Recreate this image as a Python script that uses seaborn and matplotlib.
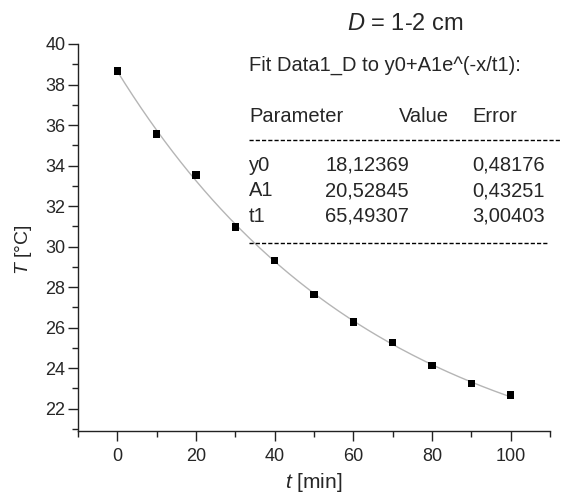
import numpy as np
import pandas as pd
import seaborn as sns
import matplotlib.pyplot as plt
from matplotlib.lines import Line2D
from matplotlib.ticker import MultipleLocator

# measured cooling curve
time_min = [0, 10, 20, 30, 40, 50, 60, 70, 80, 90, 100]
temp_c = [38.67, 35.56, 33.54, 30.98, 29.31, 27.64, 26.29, 25.27, 24.14, 23.25, 22.68]

# fit parameters shown in the box
param_names = ["y0", "A1", "t1"]
param_values = [18.12369, 20.52845, 65.49307]
param_errors = [0.48176, 0.43251, 3.00403]
value_text = ["18,12369", "20,52845", "65,49307"]
error_text = ["0,48176", "0,43251", "3,00403"]

W, H = 562, 497


def px(x, y):
    # pixel position -> figure fraction
    return x / W, 1 - y / H


def main():
    sns.set_style("ticks")
    plt.rcParams.update({
        'font.family': ['Liberation Sans', 'DejaVu Sans'],
        'mathtext.fontset': 'custom',
        'mathtext.it': 'Liberation Sans:italic',
        'mathtext.rm': 'Liberation Sans',
        'font.size': 13,
        'axes.linewidth': 1.0,
        'axes.edgecolor': '#222222',
    })

    fig = plt.figure(figsize=(W / 100, H / 100), dpi=100)
    ax = fig.add_axes([78 / W, 66 / H, 472 / W, 387 / H])

    y0, a1, t1 = param_values
    fit_x = np.linspace(min(time_min), max(time_min), 200)
    fit = pd.DataFrame({'t': fit_x, 'T': y0 + a1 * np.exp(-fit_x / t1)})
    df = pd.DataFrame({'t': time_min, 'T': temp_c})

    sns.lineplot(data=fit, x='t', y='T', ax=ax, color='#b5b5b5', linewidth=1.0)
    sns.scatterplot(data=df, x='t', y='T', ax=ax, marker='s', s=30,
                    color='black', edgecolor='none', zorder=3)

    ax.set_xlim(-10, 110)
    ax.set_ylim(20.9, 40)
    ax.set_xticks([0, 20, 40, 60, 80, 100])
    ax.set_yticks(np.arange(22, 41, 2))
    ax.xaxis.set_minor_locator(MultipleLocator(10))
    ax.yaxis.set_minor_locator(MultipleLocator(1))
    ax.tick_params(which='major', direction='out', length=7, width=1.0,
                   color='#222222', labelsize=13)
    ax.tick_params(which='minor', direction='out', length=4, width=1.0, color='#222222')
    ax.tick_params(axis='x', pad=5)
    ax.tick_params(axis='y', pad=2)
    sns.despine(ax=ax)

    ax.set_xlabel(r'$t$ [min]', fontsize=15)
    ax.set_ylabel(r'$T$ [°C]', fontsize=14)
    ax.xaxis.label.set_verticalalignment('center')
    ax.yaxis.label.set_verticalalignment('center')
    ax.xaxis.set_label_coords(0.5, -0.134)
    ax.yaxis.set_label_coords(-0.1165, 0.468)

    # annotation box
    fs = 14.5
    fig.text(*px(405, 30), r'$D$ = 1-2 cm', fontsize=17, ha='center', va='baseline')
    fig.text(*px(249, 71), 'Fit Data1_D to y0+A1e^(-x/t1):', fontsize=fs, va='baseline')
    fig.text(*px(249, 122), 'Parameter', fontsize=fs, va='baseline')
    fig.text(*px(449, 122), 'Value', fontsize=fs, va='baseline', ha='right')
    fig.text(*px(472, 122), 'Error', fontsize=fs, va='baseline')
    for i, name in enumerate(param_names):
        yy = 171 + i * 25.5
        fig.text(*px(249, yy), name, fontsize=fs, va='baseline')
        fig.text(*px(409, yy), value_text[i], fontsize=fs, va='baseline', ha='right')
        fig.text(*px(472, yy), error_text[i], fontsize=fs, va='baseline')

    for yy, x1 in [(140, 562), (243, 549)]:
        fig.add_artist(Line2D([249 / W, x1 / W], [1 - yy / H, 1 - yy / H],
                              color='black', linewidth=1.0, linestyle=(0, (3, 1.5))))

    fig.savefig('out.png', dpi=100)


if __name__ == "__main__":
    main()
